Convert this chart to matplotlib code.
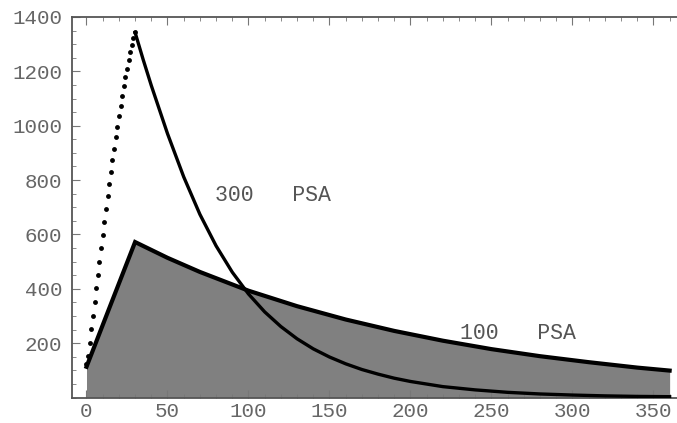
import matplotlib
matplotlib.use("Agg")
import matplotlib.pyplot as plt
from matplotlib.ticker import MultipleLocator, FixedLocator

# 300 PSA, rising part: one dot per month (months 0..30)
rise300_months = list(range(0, 31))
rise300_values = [123, 154, 202, 251, 300, 350, 402, 451, 500, 549, 598, 645,
                  693, 742, 786, 829, 873, 916, 957, 997, 1036, 1073, 1110,
                  1147, 1178, 1210, 1242, 1271, 1297, 1322, 1343]

# 300 PSA, declining part
decl300_months = [30, 35, 40, 50, 60, 70, 80, 90, 100, 110, 120, 130, 140,
                  150, 160, 170, 180, 190, 200, 220, 240, 260, 280, 300, 320,
                  340, 360]
decl300_values = [1343, 1243, 1148, 971, 812, 674, 558, 461, 381, 315, 261,
                  216, 179, 149, 124, 103, 86, 71, 59, 40, 28, 19, 13, 9, 6,
                  4, 3]

# 100 PSA
psa100_months = [0, 15, 30, 50, 70, 100, 130, 160, 190, 220, 250, 280, 310,
                 340, 360]
psa100_values = [113, 343, 572, 514, 462, 393, 336, 287, 245, 209, 178, 152,
                 130, 110, 99]

x_ticks = [0, 50, 100, 150, 200, 250, 300, 350]
y_ticks = [200, 400, 600, 800, 1000, 1200, 1400]

label300 = "300   PSA"
label100 = "100   PSA"

W, H = 677, 423
fig = plt.figure(figsize=(W / 100, H / 100), dpi=100)
left, right, top, bottom = 72, 680, 17, 397.5
ax = fig.add_axes([left / W, (H - bottom) / H, (right - left) / W, (bottom - top) / H])

fill_color = "#808080"
ax.fill_between(psa100_months, 0, psa100_values, color=fill_color, lw=0, zorder=1)
ax.plot(psa100_months, psa100_values, color="black", lw=3.0,
        solid_joinstyle="miter", zorder=3)
ax.plot(decl300_months, decl300_values, color="black", lw=2.4, zorder=3)
ax.plot(rise300_months, rise300_values, linestyle="none", marker="o",
        markersize=3.5, color="black", markeredgewidth=0, zorder=4)

ax.set_xlim(-8.95, 366.4)
ax.set_ylim(0, 1400)

font = "Liberation Mono"
ax.text(79.3, 745, label300, fontsize=15.5, family=font, color="#555555",
        va="center", ha="left")
ax.text(230.5, 237, label100, fontsize=15.5, family=font, color="#555555",
        va="center", ha="left")

ax.xaxis.set_major_locator(FixedLocator(x_ticks))
ax.yaxis.set_major_locator(FixedLocator(y_ticks))
ax.xaxis.set_minor_locator(MultipleLocator(10))
ax.yaxis.set_minor_locator(MultipleLocator(50))
ax.set_xticklabels([str(v) for v in x_ticks])
ax.set_yticklabels([str(v) for v in y_ticks])

for lab in ax.get_xticklabels() + ax.get_yticklabels():
    lab.set_family(font)
    lab.set_fontsize(15)
    lab.set_color("#666666")

ax.tick_params(which="both", direction="in", top=True, right=False,
               color="#777777")
ax.tick_params(which="major", length=6, width=0.8)
ax.tick_params(which="minor", length=3, width=0.6)
ax.tick_params(axis="x", which="major", pad=3)
ax.tick_params(axis="y", which="major", pad=7)

for s in ["left", "bottom", "top"]:
    ax.spines[s].set_color("#555555")
    ax.spines[s].set_linewidth(1.3)
ax.spines["right"].set_visible(False)

fig.savefig("out.png", dpi=100)
